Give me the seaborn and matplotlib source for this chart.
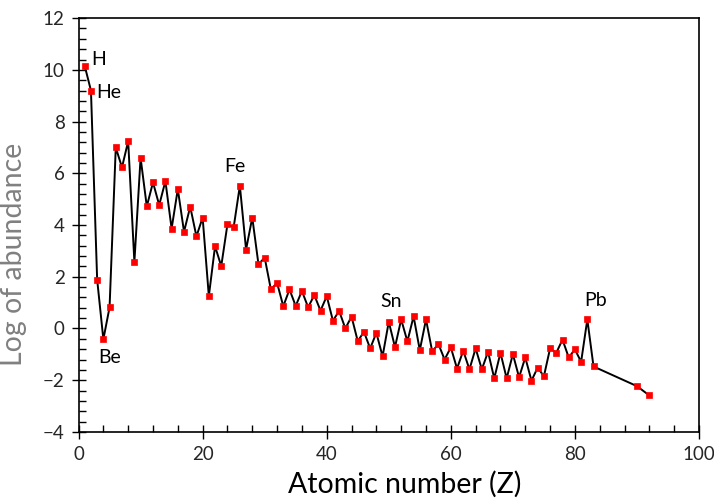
import pandas as pd
import seaborn as sns
import matplotlib.pyplot as plt
from matplotlib.ticker import MultipleLocator

# Atomic number and log of solar-system abundance
atomic_number = list(range(1, 84)) + [90, 92]
log_abundance = [
    10.15, 9.20, 1.89, -0.42, 0.82, 7.00, 6.23, 7.24, 2.57, 6.60,
    4.72, 5.65, 4.77, 5.70, 3.86, 5.39, 3.74, 4.71, 3.56, 4.29,
    1.25, 3.18, 2.41, 4.03, 3.91, 5.52, 3.05, 4.29, 2.48, 2.74,
    1.51, 1.76, 0.86, 1.51, 0.87, 1.45, 0.82, 1.29, 0.69, 1.25,
    0.30, 0.68, 0.00, 0.46, -0.49, -0.13, -0.77, -0.17, -1.08, 0.26,
    -0.72, 0.35, -0.50, 0.47, -0.84, 0.35, -0.89, -0.60, -1.20, -0.73,
    -1.55, -0.86, -1.58, -0.77, -1.58, -0.90, -1.93, -0.94, -1.93, -0.99,
    -1.89, -1.12, -2.02, -1.51, -1.85, -0.77, -0.94, -0.43, -1.12, -0.81,
    -1.29, 0.35, -1.47, -2.23, -2.59,
]

# element labels: text, x, y (data coords of the text anchor)
label_text = ['H', 'He', 'Be', 'Fe', 'Sn', 'Pb']
label_x = [2.0, 2.9, 3.2, 25.2, 50.3, 83.3]
label_y = [10.42, 9.12, -1.11, 6.28, 1.05, 1.09]
label_ha = ['left', 'left', 'left', 'center', 'center', 'center']

df = pd.DataFrame({'Z': atomic_number, 'abundance': log_abundance})

sns.set_style('white')
plt.rcParams['font.family'] = ['Lato', 'DejaVu Sans']

fig = plt.figure(figsize=(7.14, 5.04), dpi=100)
ax = fig.add_axes([0.110, 0.143, 0.869, 0.821])

sns.lineplot(data=df, x='Z', y='abundance', ax=ax, color='black', linewidth=1.4,
             marker='s', markersize=4.2, markerfacecolor='#ff0000',
             markeredgecolor='#ff0000', markeredgewidth=0.5)

for t, x, y, ha in zip(label_text, label_x, label_y, label_ha):
    ax.text(x, y, t, fontsize=14, ha=ha, va='center', color='black')

ax.set_xlim(0, 100)
ax.set_ylim(-4, 12)
ax.xaxis.set_major_locator(MultipleLocator(20))
ax.xaxis.set_minor_locator(MultipleLocator(4))
ax.yaxis.set_major_locator(MultipleLocator(2))
ax.yaxis.set_minor_locator(MultipleLocator(0.4))
ax.tick_params(which='major', direction='inout', length=10, width=1,
               labelsize=13.5, color='black', pad=5)
ax.tick_params(which='minor', direction='in', length=5, width=1, color='black')
ax.tick_params(axis='both', which='both', bottom=True, left=True, top=False, right=False)

for s in ax.spines.values():
    s.set_color('black')
    s.set_linewidth(1.2)

ax.set_xlabel('Atomic number (Z)', fontsize=20.5, color='black')
ax.set_ylabel('Log of abundance', fontsize=20.5, color='#808080')
ax.xaxis.set_label_coords(0.525, -0.095)
ax.yaxis.set_label_coords(-0.083, 0.428)

plt.savefig('out.png', dpi=100)
